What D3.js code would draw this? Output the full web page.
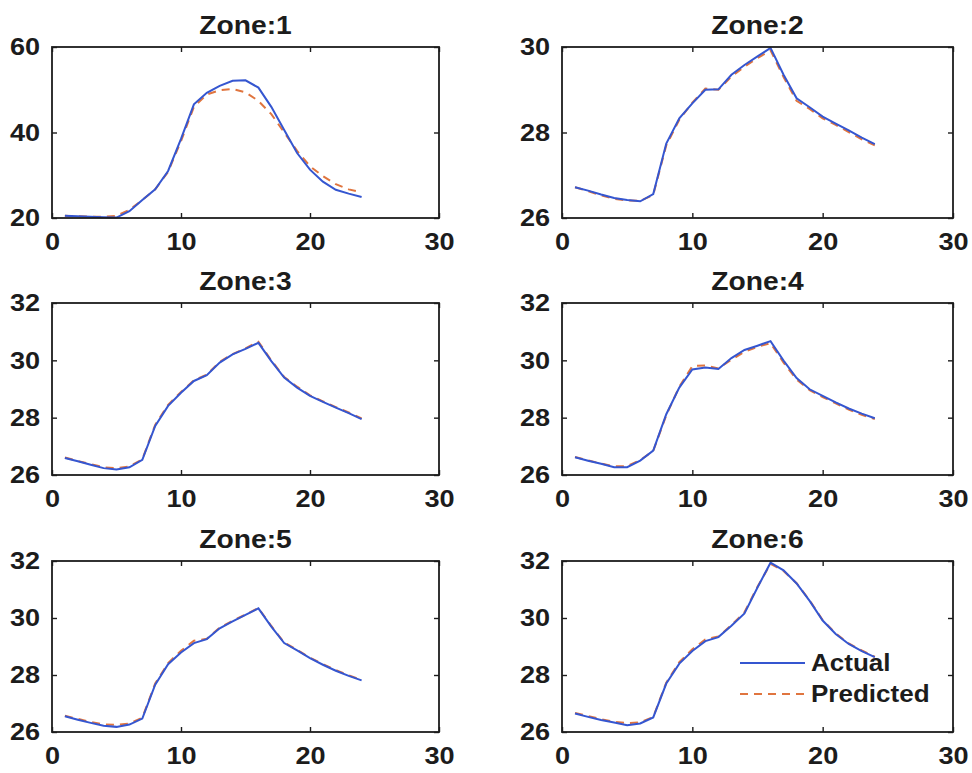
<!DOCTYPE html>
<html>
<head>
<meta charset="utf-8">
<script src="https://cdn.jsdelivr.net/npm/d3@7"></script>
<style>
  body { margin: 0; background: #fff; }
  text { font-family: "Liberation Sans", Arial, Helvetica, sans-serif; font-weight: bold; fill: #1c1c1c; }
</style>
</head>
<body>
<svg id="chart" width="972" height="773"></svg>
<script>
// Hour of day (x axis)
const hours = [1,2,3,4,5,6,7,8,9,10,11,12,13,14,15,16,17,18,19,20,21,22,23,24];

// Zone temperatures: measured vs. model prediction
const zone1Actual    = [20.5,20.4,20.3,20.2,20.1,21.6,24.2,26.7,31.0,38.5,46.6,49.3,50.9,52.1,52.2,50.5,46.0,40.6,35.2,31.3,28.5,26.6,25.7,24.9];
const zone1Predicted = [20.5,20.4,20.3,20.3,20.5,21.9,24.2,26.7,30.8,38.0,46.0,48.9,49.9,50.2,49.4,47.4,44.3,40.0,35.7,32.1,29.8,27.9,26.7,26.0];

const zone2Actual    = [26.72,26.64,26.55,26.47,26.42,26.39,26.56,27.74,28.33,28.68,29.00,29.01,29.35,29.58,29.78,29.98,29.35,28.80,28.59,28.37,28.21,28.05,27.88,27.73];
const zone2Predicted = [26.72,26.63,26.53,26.45,26.41,26.40,26.54,27.70,28.30,28.70,29.03,29.00,29.31,29.54,29.74,29.92,29.30,28.74,28.55,28.33,28.18,28.01,27.84,27.70];

const zone3Actual    = [26.59,26.48,26.36,26.24,26.19,26.27,26.53,27.71,28.41,28.87,29.28,29.48,29.92,30.21,30.40,30.61,29.97,29.40,29.05,28.76,28.55,28.35,28.16,27.95];
const zone3Predicted = [26.61,26.49,26.38,26.27,26.24,26.30,26.55,27.75,28.45,28.90,29.30,29.50,29.95,30.22,30.42,30.65,30.00,29.42,29.08,28.78,28.57,28.37,28.18,27.97];

const zone4Actual    = [26.62,26.50,26.39,26.27,26.27,26.50,26.85,28.12,29.05,29.68,29.75,29.70,30.08,30.36,30.51,30.67,29.99,29.38,28.99,28.76,28.53,28.32,28.14,27.98];
const zone4Predicted = [26.63,26.51,26.40,26.30,26.31,26.52,26.84,28.08,29.08,29.80,29.82,29.72,30.02,30.30,30.47,30.60,29.92,29.33,28.96,28.72,28.50,28.28,28.10,27.95];

const zone5Actual    = [26.55,26.43,26.32,26.22,26.18,26.26,26.47,27.66,28.38,28.79,29.12,29.26,29.64,29.88,30.11,30.34,29.70,29.12,28.86,28.59,28.36,28.15,27.97,27.81];
const zone5Predicted = [26.57,26.46,26.35,26.27,26.25,26.30,26.50,27.70,28.42,28.85,29.20,29.27,29.66,29.90,30.12,30.35,29.72,29.14,28.88,28.61,28.38,28.17,27.99,27.83];

const zone6Actual    = [26.65,26.53,26.42,26.33,26.24,26.30,26.51,27.70,28.40,28.84,29.19,29.33,29.73,30.16,31.07,31.94,31.67,31.21,30.60,29.91,29.44,29.09,28.84,28.63];
const zone6Predicted = [26.67,26.56,26.45,26.36,26.31,26.34,26.53,27.73,28.45,28.90,29.25,29.35,29.75,30.20,31.10,31.90,31.65,31.22,30.62,29.93,29.46,29.11,28.86,28.64];

// Tick labels
const xTicks = [0, 10, 20, 30];
const yTicksZone1 = [20, 40, 60];
const yTicksZone2 = [26, 28, 30];
const yTicksOther = [26, 28, 30, 32];

const seriesNames = ["Actual", "Predicted"];

const panels = [
  { title: "Zone:1", actual: zone1Actual, predicted: zone1Predicted, yTicks: yTicksZone1, col: 0, row: 0 },
  { title: "Zone:2", actual: zone2Actual, predicted: zone2Predicted, yTicks: yTicksZone2, col: 1, row: 0 },
  { title: "Zone:3", actual: zone3Actual, predicted: zone3Predicted, yTicks: yTicksOther, col: 0, row: 1 },
  { title: "Zone:4", actual: zone4Actual, predicted: zone4Predicted, yTicks: yTicksOther, col: 1, row: 1 },
  { title: "Zone:5", actual: zone5Actual, predicted: zone5Predicted, yTicks: yTicksOther, col: 0, row: 2 },
  { title: "Zone:6", actual: zone6Actual, predicted: zone6Predicted, yTicks: yTicksOther, col: 1, row: 2, legend: true }
];

// Layout of the 3x2 grid of axes boxes
const cols = [{ l: 52, r: 439 }, { l: 562, r: 953 }];
const rows = [{ t: 47, b: 218 }, { t: 303, b: 475 }, { t: 561, b: 732 }];
const STRETCH = 1.13;          // wide bold lettering
const BLUE = "#3556d0", ORANGE = "#e0753f", INK = "#1c1c1c";
const fmt = d3.format("d");

const svg = d3.select("#chart");

panels.forEach(p => {
  const { l, r } = cols[p.col];
  const { t, b } = rows[p.row];
  const yDomain = d3.extent(p.yTicks);

  const x = d3.scaleLinear().domain([0, 30]).range([l, r]);
  const y = d3.scaleLinear().domain(yDomain).range([b, t]);
  const g = svg.append("g");

  const styleAxis = sel => {
    sel.select(".domain").remove();
    sel.selectAll(".tick line").attr("stroke", INK).attr("stroke-width", 1.4);
    sel.selectAll(".tick text")
      .attr("fill", INK)
      .style("font-size", "24px")
      .attr("transform", `scale(${STRETCH},1)`);
  };

  g.append("g").attr("transform", `translate(0,${b})`)
    .call(d3.axisBottom(x).tickValues(xTicks).tickFormat(fmt).tickSize(-5).tickPadding(15))
    .call(styleAxis);
  g.append("g").attr("transform", `translate(0,${t})`)
    .call(d3.axisTop(x).tickValues(xTicks).tickSize(-5).tickFormat(""))
    .call(styleAxis);
  g.append("g").attr("transform", `translate(${l},0)`)
    .call(d3.axisLeft(y).tickValues(p.yTicks).tickFormat(fmt).tickSize(-5).tickPadding(10.5))
    .call(styleAxis);
  g.append("g").attr("transform", `translate(${r},0)`)
    .call(d3.axisRight(y).tickValues(p.yTicks).tickSize(-5).tickFormat(""))
    .call(styleAxis);

  const line = d3.line().x((d, i) => x(hours[i])).y(d => y(d));

  g.append("path").datum(p.predicted)
    .attr("d", line).attr("fill", "none")
    .attr("stroke", ORANGE).attr("stroke-width", 2)
    .attr("stroke-dasharray", "8,6");
  g.append("path").datum(p.actual)
    .attr("d", line).attr("fill", "none")
    .attr("stroke", BLUE).attr("stroke-width", 2);

  // axes box
  g.append("rect")
    .attr("x", l).attr("y", t).attr("width", r - l).attr("height", b - t)
    .attr("fill", "none").attr("stroke", INK).attr("stroke-width", 1.8);

  // panel title
  const cx = (l + r) / 2;
  g.append("text")
    .attr("transform", `translate(${cx},${t - 13}) scale(${STRETCH},1)`)
    .attr("text-anchor", "middle")
    .style("font-size", "25px")
    .text(p.title);

  if (p.legend) {
    const lg = g.append("g");
    const entries = [
      { name: seriesNames[0], color: BLUE, dash: null, y: 663 },
      { name: seriesNames[1], color: ORANGE, dash: "8,6", y: 694 }
    ];
    entries.forEach(e => {
      lg.append("line")
        .attr("x1", 740).attr("x2", 805).attr("y1", e.y).attr("y2", e.y)
        .attr("stroke", e.color).attr("stroke-width", 2)
        .attr("stroke-dasharray", e.dash);
      lg.append("text")
        .attr("transform", `translate(811,${e.y + 8}) scale(${STRETCH * 0.96},1)`)
        .style("font-size", "24px")
        .text(e.name);
    });
  }
});
</script>
</body>
</html>
